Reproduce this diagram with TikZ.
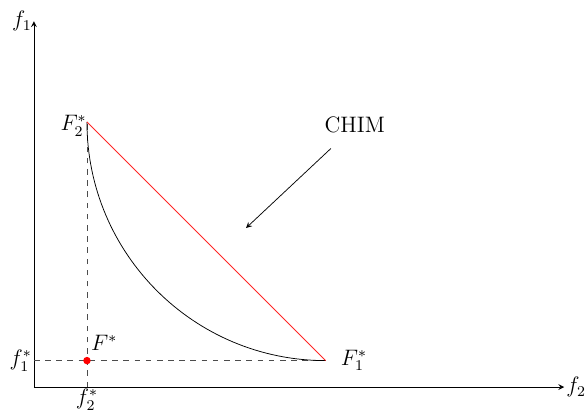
\documentclass[tikz,border=0pt]{standalone}
\usepackage{amsmath}
\usepackage{amssymb}
\usetikzlibrary{arrows, positioning}
\begin{document}
\begin{tikzpicture}[
			>=stealth,
			guide/.style={dashed, gray!60!black},
			every node/.style={
					inner sep=2pt,
					font=\large
				}
		]
		\useasboundingbox (-0.64, -0.49) rectangle (10.43, 7.30);

		% axes
		\coordinate (O) at (0, 0);
		\coordinate (xend) at (10, 0);
		\coordinate (yend) at (0, 6.9);
		\draw[->] (O) -- (xend) node[right, inner sep=1pt] {$f_2$};
		\draw[->] (O) -- (yend) node[left, inner sep=1pt] {$f_1$};

		% extreme points
		\coordinate (F2) at (1, 5);
		\coordinate (F1) at (5.5, 0.5);
		\coordinate (Fs) at (1, 0.5);
		\coordinate (f1) at (0, 0.5);
		\coordinate (f2) at (1, 0);

		\node[left=-2pt of F2, yshift=-2pt] {$F_2^*$};
		\node[right=6pt of F1] {$F_1^*$};
		\node[left=-1pt of f1] {$f_1^*$};
		\node[below=-1pt of f2] {$f_2^*$};
		\node[above right=3pt and 0pt of Fs] {$F^*$};

		% dashed guides
		\draw[guide] (f1) -- (F1);
		\draw[guide] (f2) -- (F2);

		% front and hull
		\draw (F2) arc[start angle=180, end angle=270, x radius=4.5, y radius=4.5];
		\draw[red!85] (F2) -- (F1);

		\fill[red] (Fs) circle (2pt);

		% label
		\node (chim) at (6.05, 4.95) {CHIM};
		\coordinate (tail) at (5.6, 4.5);
		\coordinate (head) at (4, 3);
		\draw[->] (tail) -- (head);
	\end{tikzpicture}
\end{document}
